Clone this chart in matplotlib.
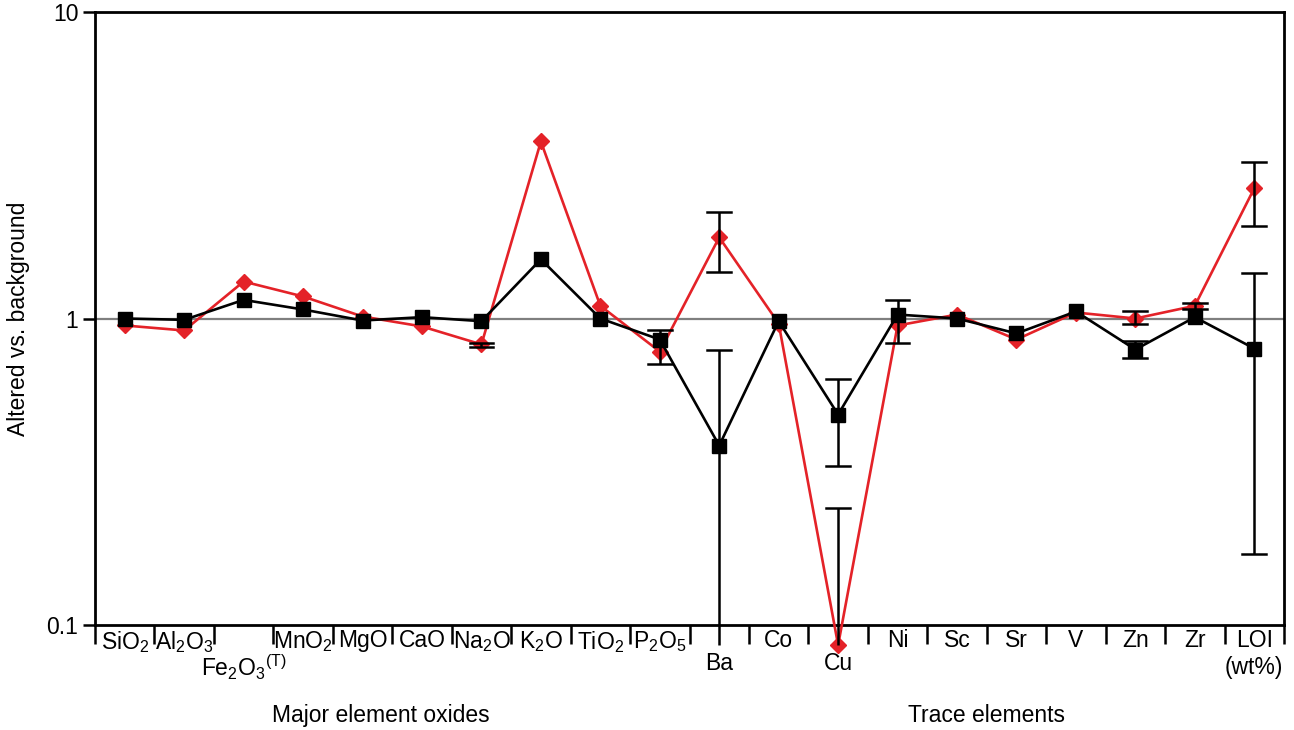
import matplotlib
matplotlib.use("Agg")
import matplotlib.pyplot as plt
import numpy as np

plt.rcParams['font.family'] = ['Liberation Sans', 'DejaVu Sans']
plt.rcParams['mathtext.fontset'] = 'custom'
plt.rcParams['mathtext.rm'] = 'Liberation Sans'
plt.rcParams['mathtext.it'] = 'Liberation Sans'
plt.rcParams['mathtext.default'] = 'regular'

# ---------------- data ----------------
labels = [r'SiO$_2$', r'Al$_2$O$_3$', r'Fe$_2$O$_3$$^{(T)}$', r'MnO$_2$', 'MgO', 'CaO',
          r'Na$_2$O', r'K$_2$O', r'TiO$_2$', r'P$_2$O$_5$', 'Ba', 'Co', 'Cu', 'Ni',
          'Sc', 'Sr', 'V', 'Zn', 'Zr', 'LOI\n(wt%)']
label_row = [0, 0, 1, 0, 0, 0, 0, 0, 0, 0, 1, 0, 1, 0, 0, 0, 0, 0, 0, 0]

black = [1.00, 0.99, 1.15, 1.07, 0.985, 1.01, 0.98, 1.56, 1.00, 0.854,
         0.385, 0.98, 0.486, 1.03, 1.00, 0.894, 1.054, 0.792, 1.01, 0.798]
red = [0.949, 0.914, 1.32, 1.18, 1.015, 0.942, 0.823, 3.78, 1.10, 0.78,
       1.84, 0.963, 0.086, 0.949, 1.03, 0.854, 1.046, 1.00, 1.10, 2.66]

# error bars (category index, low, high); low below 0.1 has no cap
err_black_idx = [9, 10, 12, 13, 17, 19]
err_black_lo = [0.71, 0.086, 0.329, 0.835, 0.741, 0.171]
err_black_hi = [0.914, 0.792, 0.637, 1.15, 0.847, 1.41]
err_red_idx = [6, 10, 12, 17, 18, 19]
err_red_lo = [0.81, 1.42, 0.086, 0.963, 1.07, 2.01]
err_red_hi = [0.835, 2.23, 0.24, 1.054, 1.12, 3.25]

group_labels = ['Major element oxides', 'Trace elements']
group_pos = [4.3, 14.5]

# ---------------- figure ----------------
fig = plt.figure(figsize=(12.94, 7.30), dpi=100)
ax = fig.add_axes([95 / 1294, 1 - 625 / 730, (1284 - 95) / 1294, (625 - 12) / 730])

x = np.arange(len(labels))
RED = '#e42228'
FS = 16.5

ax.axhline(1.0, color='#7f7f7f', lw=1.6, zorder=1)

ax.plot(x, red, color=RED, lw=1.9, marker='D', ms=8, mfc=RED, mec=RED,
        zorder=3, clip_on=False)
ax.plot(x, black, color='black', lw=1.9, marker='s', ms=10.5, mfc='black', mec='black',
        zorder=4, clip_on=False)


def draw_err(idx, lo, hi):
    for i, l, h in zip(idx, lo, hi):
        ax.plot([i, i], [l, h], color='black', lw=1.8, zorder=5, clip_on=False,
                solid_capstyle='butt')
        ax.plot([i - 0.2, i + 0.2], [h, h], color='black', lw=1.8, zorder=5, clip_on=False)
        if l >= 0.1:
            ax.plot([i - 0.2, i + 0.2], [l, l], color='black', lw=1.8, zorder=5, clip_on=False)


draw_err(err_black_idx, err_black_lo, err_black_hi)
draw_err(err_red_idx, err_red_lo, err_red_hi)

ax.set_yscale('log')
ax.set_ylim(0.1, 10)
ax.set_xlim(-0.5, len(labels) - 0.5)
ax.set_yticks([0.1, 1, 10])
ax.set_yticklabels(['0.1', '1', '10'], fontsize=FS)
ax.yaxis.set_minor_locator(matplotlib.ticker.NullLocator())
ax.tick_params(axis='y', direction='out', length=9, width=1.8, pad=3)

ax.set_xticks(np.arange(-0.5, len(labels), 1.0))
ax.set_xticklabels([])
ax.tick_params(axis='x', direction='out', length=14, width=1.8)

for sp in ax.spines.values():
    sp.set_linewidth(2.0)
    sp.set_color('black')

ax.set_ylabel('Altered vs. background', fontsize=FS)
ax.yaxis.set_label_coords(-0.055, 0.5)

trans = matplotlib.transforms.blended_transform_factory(ax.transData, ax.transAxes)
row_y = [-0.007, -0.044]
for i, (lab, r) in enumerate(zip(labels, label_row)):
    ax.text(i, row_y[r], lab, transform=trans, ha='center', va='top', fontsize=FS,
            linespacing=1.2)

for g, p in zip(group_labels, group_pos):
    ax.text(p, -0.1475, g, transform=trans, ha='center', va='center', fontsize=FS)

fig.savefig('out.png', dpi=100)
